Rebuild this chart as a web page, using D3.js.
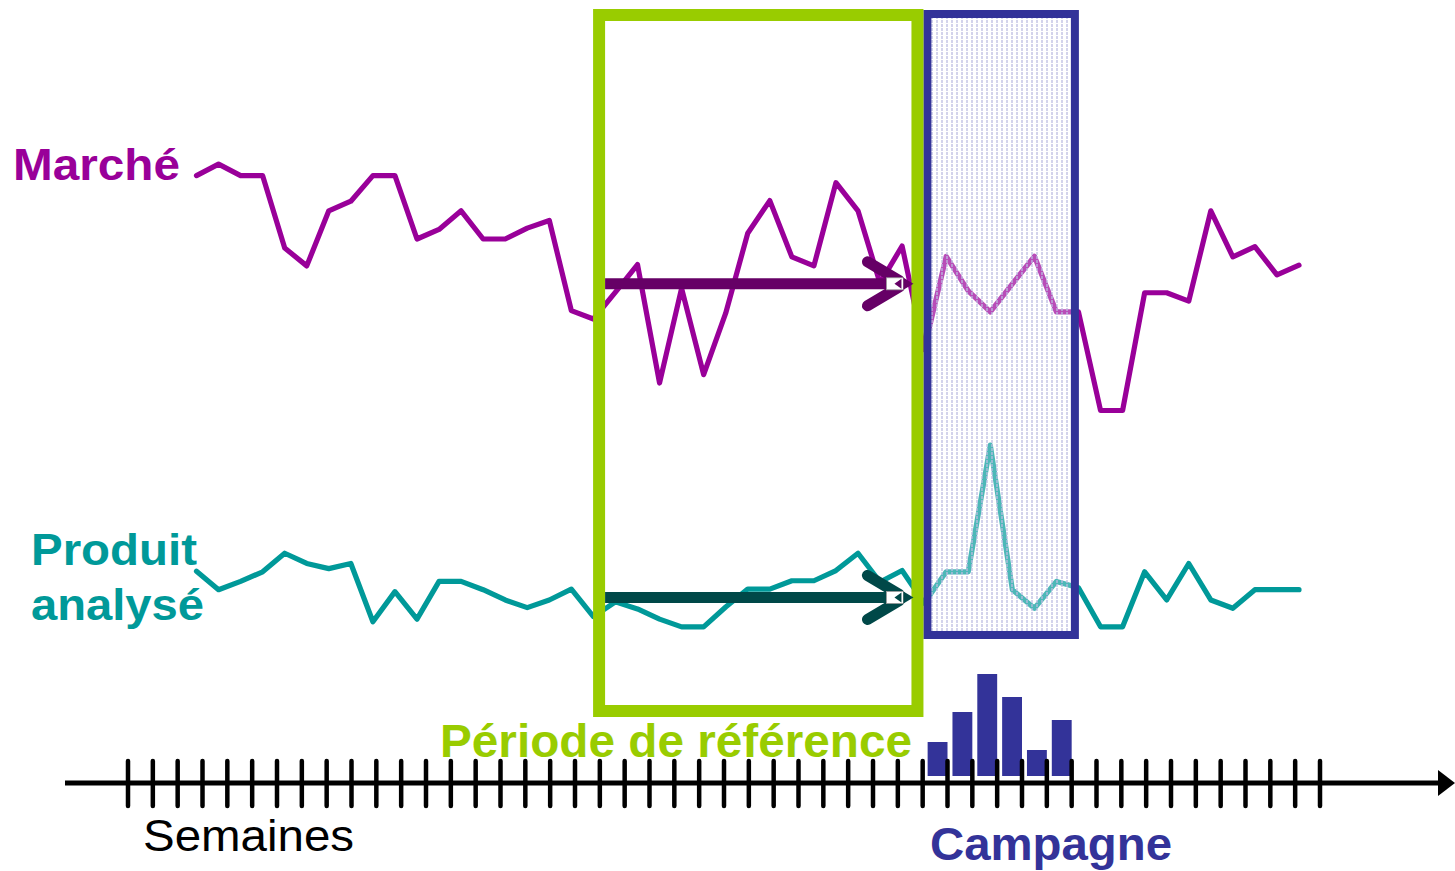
<!DOCTYPE html>
<html><head><meta charset="utf-8">
<script src="https://cdn.jsdelivr.net/npm/d3@7"></script>
<style>html,body{margin:0;padding:0;background:#fff;overflow:hidden} svg{display:block}</style>
</head><body>
<svg id="c" width="1455" height="871"></svg>
<script>
// ---------- DATA ----------
const weeks = d3.range(0, 51);            // weekly observations on the lines
const marche = [94.9, 96.7, 94.9, 94.9, 83.6, 80.8, 89.4, 90.9, 94.9, 94.9,
  85.0, 86.5, 89.4, 85.0, 85.0, 86.7, 87.9, 73.8, 72.5, 76.7,
  81.0, 62.5, 77.3, 63.8, 73.4, 85.9, 91.0, 82.2, 80.8, 93.8,
  89.4, 78.1, 83.9, 67.7, 82.3, 76.9, 73.6, 78.0, 82.3, 73.6,
  73.6, 58.2, 58.2, 76.6, 76.6, 75.3, 89.4, 82.2, 83.8, 79.4, 80.9];
const produit = [33.1, 30.2, 31.5, 33.0, 35.9, 34.3, 33.5, 34.3, 25.2, 29.9,
  25.6, 31.5, 31.5, 30.2, 28.6, 27.4, 28.6, 30.3, 26.0, 28.3,
  27.2, 25.6, 24.4, 24.4, 27.5, 30.3, 30.3, 31.6, 31.6, 33.2,
  35.9, 31.4, 33.2, 28.1, 33.0, 33.0, 52.8, 30.2, 27.3, 31.5,
  30.5, 24.4, 24.4, 33.0, 28.6, 34.3, 28.6, 27.3, 30.2, 30.2, 30.2];
const axisWeeks = d3.range(0, 49);        // tick marks of the "Semaines" axis
const campaignWeeks = ["C1", "C2", "C3", "C4", "C5", "C6"];
const campaignPressure = [3.4, 6.4, 10.2, 7.9, 2.6, 5.6];
const referenceMeans = [78, 29];          // Marché, Produit (reference-period level)
const referencePeriod = [18.97, 31.79];   // in axis-week units
const campaignPeriod = [32.19, 38.13];    // in axis-week units
const labelMarche = "Marché";
const labelProduit = ["Produit", "analysé"];
const labelReference = "Période de référence";
const labelSemaines = "Semaines";
const labelCampagne = "Campagne";

// ---------- COLOURS ----------
const cMarche = "#990099", cProduit = "#009999", cGreen = "#99CC00", cBlue = "#333399";
const cArrowM = "#660066", cArrowP = "#004848";

const svg = d3.select("#c");
const defs = svg.append("defs");
const pat = defs.append("pattern").attr("id", "stripes").attr("patternUnits", "userSpaceOnUse")
  .attr("width", 5).attr("height", 4);
pat.append("rect").attr("width", 5).attr("height", 4).attr("fill", "#fff").attr("fill-opacity", 0.3);
pat.append("rect").attr("x", 1).attr("y", 0).attr("width", 2).attr("height", 3)
  .attr("fill", "#bcbce0").attr("fill-opacity", 0.65);

// ---------- SCALES ----------
const x = d3.scaleLinear().domain([0, 50]).range([196.5, 1299]);
const y = d3.scaleLinear().domain([0, 120]).range([783, 15]);
const tx = d3.scaleLinear().domain([0, 48]).range([128, 1320]);
const bx = d3.scaleBand().domain(campaignWeeks).range([tx(32), tx(38)])
  .paddingInner(0.2).paddingOuter(0.1).align(1);
const by = d3.scaleLinear().domain([0, 10]).range([776, 676]);

const line = d3.line().x((d, i) => x(weeks[i])).y(d => y(d));

// ---------- LINES ----------
[[marche, cMarche], [produit, cProduit]].forEach(([s, c]) => {
  svg.append("path").attr("d", line(s)).attr("fill", "none").attr("stroke", c)
    .attr("stroke-width", 5.2).attr("stroke-linejoin", "round").attr("stroke-linecap", "round");
});

// ---------- CAMPAIGN BOX ----------
svg.append("rect").attr("x", tx(campaignPeriod[0])).attr("y", 14)
  .attr("width", tx(campaignPeriod[1]) - tx(campaignPeriod[0])).attr("height", 621)
  .attr("fill", "url(#stripes)").attr("stroke", cBlue).attr("stroke-width", 8);

// ---------- REFERENCE BOX ----------
svg.append("rect").attr("x", tx(referencePeriod[0])).attr("y", 15)
  .attr("width", tx(referencePeriod[1]) - tx(referencePeriod[0])).attr("height", 696)
  .attr("fill", "none").attr("stroke", cGreen).attr("stroke-width", 12);

// ---------- ARROWS ----------
function arrow(v, color) {
  const yy = y(v);
  const x0 = tx(referencePeriod[0]) + 6, xTip = tx(referencePeriod[1]) - 4;
  const g = svg.append("g");
  g.append("line").attr("x1", x0).attr("x2", xTip - 20).attr("y1", yy).attr("y2", yy)
    .attr("stroke", color).attr("stroke-width", 11);
  g.append("path").attr("d", `M${xTip - 46},${yy - 22} L${xTip - 14},${yy - 3} M${xTip - 46},${yy + 22} L${xTip - 14},${yy + 3}`)
    .attr("fill", "none").attr("stroke", color).attr("stroke-width", 11).attr("stroke-linecap", "round");
  g.append("rect").attr("x", xTip - 27).attr("y", yy - 6).attr("width", 17).attr("height", 12)
    .attr("fill", "#fff").attr("stroke", "#999").attr("stroke-width", 0.8);
  g.append("path").attr("d", `M${xTip - 19},${yy} L${xTip - 12},${yy - 5} L${xTip - 12},${yy + 5} Z`).attr("fill", color);
  g.append("path").attr("d", `M${xTip - 10},${yy - 6} L${xTip},${yy} L${xTip - 10},${yy + 6} Z`).attr("fill", color);
}
arrow(referenceMeans[0], cArrowM);
arrow(referenceMeans[1], cArrowP);

// ---------- BARS ----------
svg.append("g").selectAll("rect").data(campaignPressure).join("rect")
  .attr("x", (d, i) => bx(campaignWeeks[i])).attr("width", bx.bandwidth())
  .attr("y", d => by(d)).attr("height", d => by(0) - by(d)).attr("fill", cBlue);

// ---------- AXIS ----------
svg.append("line").attr("x1", 65).attr("x2", 1442).attr("y1", 783).attr("y2", 783)
  .attr("stroke", "#000").attr("stroke-width", 5);
svg.append("path").attr("d", "M1438,770 L1455,783 L1438,796 Z").attr("fill", "#000");
svg.append("g").selectAll("line").data(axisWeeks).join("line")
  .attr("x1", d => tx(d)).attr("x2", d => tx(d)).attr("y1", 761).attr("y2", 806)
  .attr("stroke", "#000").attr("stroke-width", 4.5).attr("stroke-linecap", "round");

// ---------- TEXT ----------
const font = "'Liberation Sans', Arial, sans-serif";
function txt(t, xx, yy, size, color, len, weight) {
  svg.append("text").attr("x", xx).attr("y", yy).text(t)
    .attr("font-family", font).attr("font-size", size).attr("font-weight", weight || "bold")
    .attr("fill", color).attr("textLength", len).attr("lengthAdjust", "spacingAndGlyphs");
}
txt(labelMarche, 13, 180, 45, cMarche, 167);
txt(labelProduit[0], 31, 565, 45, cProduit, 166);
txt(labelProduit[1], 31, 620, 45, cProduit, 173);
txt(labelReference, 440, 757, 46, cGreen, 472);
txt(labelSemaines, 143, 851, 45, "#000", 211, "normal");
txt(labelCampagne, 930, 860, 46, cBlue, 242);
</script>
</body></html>
